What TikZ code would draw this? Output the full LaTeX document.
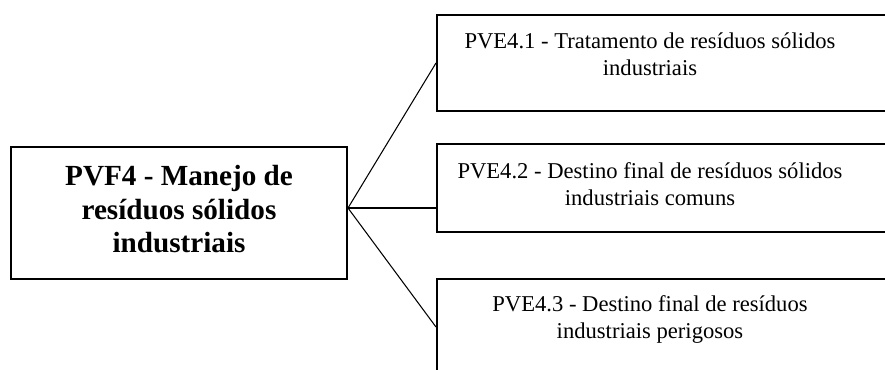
\documentclass[tikz,border=0pt]{standalone}
\usepackage{fontspec}
\setmainfont{Liberation Serif}
\usepackage{tikz}
\usetikzlibrary{calc,positioning}
\definecolor{Ink}{HTML}{000000}

\begin{document}
\begin{tikzpicture}[
    rootbox/.style={rectangle,draw=Ink,line width=1.7pt,minimum width=10.08cm,minimum height=3.96cm,align=center,
      text depth=0.24cm,font=\fontsize{24.9}{28.6}\selectfont\bfseries},
    leafbox/.style={rectangle,draw=Ink,line width=1.7pt,minimum width=15cm,anchor=west},
    leaftext/.style={align=center,anchor=base,inner sep=0pt,font=\fontsize{19.3}{22.6}\selectfont},
    link/.style={draw=Ink,line width=0.9pt}]
    \useasboundingbox (0,0) rectangle (26.55,-11.07);
    \clip (0,0) rectangle (26.55,-11.07);
    \node[rootbox] (root) at (5.37,-6.39) {PVF4 - Manejo de\\resíduos sólidos\\industriais};
    \node[leafbox,minimum height=2.88cm] (box1) at (13.08,-1.89) {};
    \node[leafbox,minimum height=2.64cm] (box2) at (13.08,-5.64) {};
    \node[leafbox,minimum height=2.88cm] (box3) at (13.08,-9.81) {};
    % base anchor sits on the last line
    \node[leaftext] (t1) at (19.5,-2.25) {PVE4.1 - Tratamento de resíduos sólidos\\industriais};
    \node[leaftext] (t2) at (19.5,-6.15) {PVE4.2 - Destino final de resíduos sólidos\\industriais comuns};
    \node[leaftext] (t3) at (19.5,-10.14) {PVE4.3 - Destino final de resíduos\\industriais perigosos};
    \coordinate (hub) at ($(root.east)+(0,0.15)$);
    \draw[link] (hub) -- (box1.west);
    \draw[link] (hub) -- (hub -| box2.west);
    \draw[link] (hub) -- (box3.west);
  \end{tikzpicture}
\end{document}
